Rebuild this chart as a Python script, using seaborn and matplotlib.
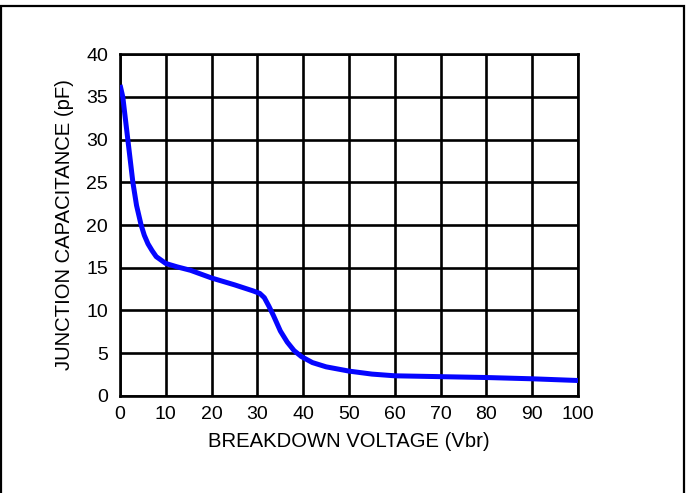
import matplotlib
matplotlib.use("Agg")
import matplotlib.pyplot as plt
import seaborn as sns
import pandas as pd
from matplotlib.patches import Rectangle

# Values
voltage = [0, 0.6, 1.7, 2.8, 3.6, 4.6, 5.3, 6.1, 7, 7.9, 10, 12.5, 15.4, 20,
           25, 29, 30.5, 31.5, 32.5, 33.5, 35, 36.5, 38, 39.6, 42, 45, 47, 50,
           55, 60, 70, 80, 90, 100]
capacitance = [36.4, 35, 30, 25, 22.3, 20, 18.8, 17.8, 17.0, 16.3, 15.5,
               15.1, 14.7, 13.8, 13.0, 12.3, 12.0, 11.5, 10.5, 9.4, 7.6, 6.3,
               5.3, 4.6, 3.9, 3.4, 3.2, 2.9, 2.55, 2.35, 2.25, 2.15, 2.0, 1.8]
x_ticks = list(range(0, 101, 10))
y_ticks = list(range(0, 41, 5))

df = pd.DataFrame({"Vbr": voltage, "Cj": capacitance})

sns.set_theme(style="white")
plt.rcParams['font.family'] = ['Liberation Sans', 'DejaVu Sans']

fig = plt.figure(figsize=(6.86, 4.93), dpi=100)
ax = fig.add_axes([0.175, 0.197, 0.6676, 0.693])

sns.lineplot(data=df, x="Vbr", y="Cj", ax=ax, color="#0505ff", linewidth=3.6,
             sort=False, zorder=5, solid_joinstyle="round", solid_capstyle="butt")

ax.set_xlim(0, 100)
ax.set_ylim(0, 40)
ax.set_xticks(x_ticks)
ax.set_yticks(y_ticks)
ax.grid(True, color="black", linewidth=1.9)
ax.set_axisbelow(True)
for s in ax.spines.values():
    s.set_color("black")
    s.set_linewidth(1.9)
ax.tick_params(axis="both", direction="out", length=5, width=1.9, color="black",
               labelsize=14, labelcolor="black")
ax.tick_params(axis="x", pad=2)
ax.tick_params(axis="y", pad=3.5)
ax.set_xlabel("BREAKDOWN VOLTAGE (Vbr)", fontsize=14.6, color="black", labelpad=7)
ax.set_ylabel("JUNCTION CAPACITANCE (pF)", fontsize=14.6, color="black", labelpad=9)

# outer frame around the figure (bottom edge runs off the image)
fig.patches.append(Rectangle((0.001, -0.05), 0.996, 1.037,
                             transform=fig.transFigure, fill=False,
                             edgecolor="black", linewidth=1.6))

fig.savefig("out.png", dpi=100)
